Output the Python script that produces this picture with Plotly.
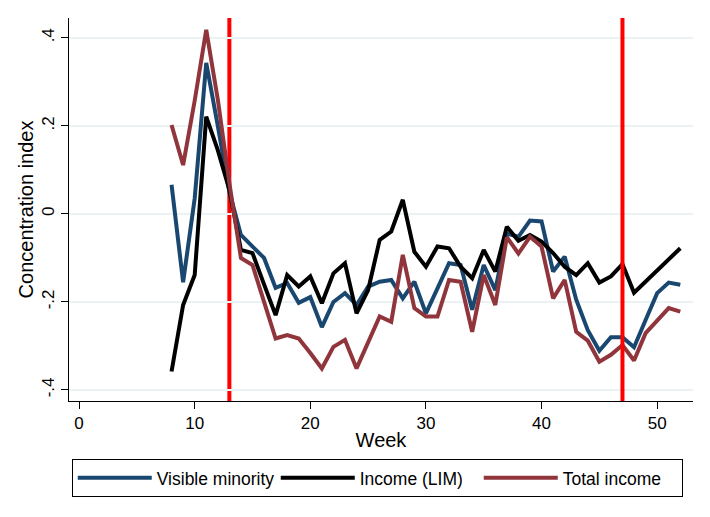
import plotly.graph_objects as go

weeks = list(range(8, 53))

visible_minority = [0.066, -0.155, 0.035, 0.343, 0.2, 0.05, -0.048, -0.073, -0.1, -0.168,
                    -0.157, -0.202, -0.189, -0.257, -0.2, -0.18, -0.207, -0.165, -0.154, -0.15,
                    -0.192, -0.154, -0.226, -0.169, -0.112, -0.116, -0.218, -0.116, -0.173, -0.045,
                    -0.052, -0.015, -0.017, -0.131, -0.097, -0.195, -0.264, -0.311, -0.28, -0.28,
                    -0.303, -0.241, -0.18, -0.156, -0.161]

income_lim = [-0.358, -0.207, -0.139, 0.221, 0.145, 0.055, -0.082, -0.089, -0.16, -0.23,
              -0.139, -0.165, -0.142, -0.203, -0.135, -0.112, -0.226, -0.173, -0.059, -0.04,
              0.032, -0.086, -0.12, -0.074, -0.078, -0.12, -0.146, -0.082, -0.131, -0.029,
              -0.061, -0.048, -0.063, -0.089, -0.12, -0.139, -0.112, -0.156, -0.142, -0.114,
              -0.179, -0.154, -0.127, -0.105, -0.078]

total_income = [0.202, 0.111, 0.257, 0.418, 0.26, 0.07, -0.1, -0.116, -0.2, -0.283,
                -0.275, -0.283, -0.316, -0.351, -0.302, -0.286, -0.351, -0.294, -0.233, -0.245,
                -0.093, -0.214, -0.233, -0.233, -0.15, -0.154, -0.268, -0.139, -0.207, -0.053,
                -0.09, -0.052, -0.074, -0.192, -0.15, -0.268, -0.288, -0.336, -0.32, -0.298,
                -0.333, -0.271, -0.241, -0.214, -0.222]

vlines = [13, 47]
x_ticks = [0, 10, 20, 30, 40, 50]
y_ticks = [-0.4, -0.2, 0, 0.2, 0.4]
y_ticktext = ["-.4", "-.2", "0", ".2", ".4"]

FONT = "Liberation Sans, Arial, sans-serif"

fig = go.Figure()
series = [
    ("Visible minority", visible_minority, "#1a476f"),
    ("Income (LIM)", income_lim, "#000000"),
    ("Total income", total_income, "#90353b"),
]
for name, vals, col in series:
    fig.add_trace(go.Scatter(x=weeks, y=vals, mode="lines", name=name,
                             line=dict(color=col, width=4)))

# zero reference line
fig.add_shape(type="line", xref="paper", yref="y", x0=0, x1=1, y0=0, y1=0,
              line=dict(color="#808080", width=2, dash="10px,5px"), layer="between")
# vertical red lines
fig.add_shape(type="line", xref="x", yref="paper", x0=vlines[0], x1=vlines[0], y0=0, y1=1,
              line=dict(color="#ff0000", width=4), layer="between")
fig.add_shape(type="line", xref="x", yref="paper", x0=vlines[1], x1=vlines[1], y0=0, y1=1,
              line=dict(color="#ff0000", width=4), layer="above")

fig.update_layout(
    width=710, height=517,
    margin=dict(l=69, r=17, t=18, b=116),
    paper_bgcolor="white", plot_bgcolor="white",
    font=dict(family=FONT, size=17, color="black"),
    showlegend=True,
    legend=dict(orientation="h", x=0.494, xanchor="center", y=-0.151, yanchor="top",
                bordercolor="black", borderwidth=1, font=dict(size=17.5),
                itemwidth=74, entrywidth=114),
    xaxis=dict(range=[-0.87, 53.1], tickvals=x_ticks, showgrid=False, zeroline=False,
               showline=True, linecolor="black", linewidth=1, automargin=False,
               ticks="outside", ticklen=7, tickcolor="black",
               title=dict(text="Week", standoff=0), tickfont=dict(size=17)),
    yaxis=dict(range=[-0.425, 0.445], tickvals=y_ticks, ticktext=y_ticktext,
               tickangle=-90, showgrid=True, gridcolor="#eaf2f3", gridwidth=1.5,
               zeroline=False, showline=True, linecolor="black", linewidth=1, automargin=False,
               ticks="outside", ticklen=7, tickcolor="black",
               title=dict(text="Concentration index", standoff=0), tickfont=dict(size=17)),
)

fig.write_html("out.html", config={"displayModeBar": False},
               post_script="document.body.style.margin='0';document.body.style.overflow='hidden';")
